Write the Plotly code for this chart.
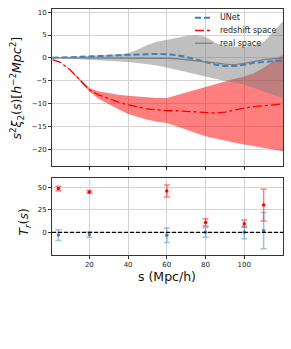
import plotly.graph_objects as go

# ---- top panel data (s grid in Mpc/h) ----
s = [1, 5, 10, 15, 20, 25, 30, 35, 40, 45, 50, 55, 60, 65, 70, 75, 80, 85, 90, 95, 100, 105, 110, 115, 120]

redshift_mean = [-0.4, -1.0, -2.6, -4.8, -7.0, -8.2, -9.0, -9.7, -10.3, -10.8, -11.2, -11.4, -11.6,
                 -11.6, -11.7, -11.8, -11.9, -12.1, -11.9, -11.4, -11.0, -10.7, -10.5, -10.3, -10.1]
redshift_upper = [-0.4, -0.95, -2.5, -4.6, -6.6, -7.4, -7.8, -8.1, -8.3, -8.5, -8.7, -8.8, -8.8,
                  -8.2, -7.5, -6.9, -6.3, -5.8, -5.2, -4.6, -4.1, -3.4, -2.2, -0.8, 0.7]
redshift_lower = [-0.4, -1.05, -2.7, -5.0, -7.4, -9.0, -10.2, -11.3, -12.3, -13.0, -13.6, -14.0, -14.3,
                  -15.0, -15.8, -16.5, -17.2, -17.7, -18.2, -18.6, -19.0, -19.4, -19.8, -20.2, -20.5]

real_mean = [0.0, 0.0, -0.02, -0.03, -0.05, -0.08, -0.1, -0.12, -0.15, -0.12, -0.1, -0.1, -0.1,
             -0.2, -0.4, -0.6, -0.8, -1.1, -1.4, -1.5, -1.2, -0.8, -0.4, -0.2, 0.0]
real_upper = [0.0, 0.08, 0.15, 0.22, 0.3, 0.45, 0.6, 0.8, 1.0, 1.8, 2.8, 3.5, 3.9,
              4.3, 4.8, 5.0, 4.6, 3.3, 2.6, 2.4, 2.5, 2.6, 3.4, 5.8, 8.0]
real_lower = [0.0, -0.08, -0.15, -0.28, -0.4, -0.5, -0.6, -0.75, -0.9, -1.15, -1.4, -1.7, -2.1,
              -2.6, -3.2, -3.6, -4.1, -4.6, -5.0, -5.4, -5.9, -6.6, -7.4, -8.1, -8.8]

unet_mean = [0.0, 0.05, 0.1, 0.18, 0.25, 0.35, 0.45, 0.55, 0.65, 0.75, 0.85, 0.85, 0.8,
             0.6, 0.2, -0.4, -1.0, -1.5, -1.8, -1.8, -1.5, -1.1, -0.9, -0.7, -0.6]

# ---- bottom panel data ----
s_pts = [4, 20, 60, 80, 100, 110]
tr_red = [48.3, 44.6, 45.6, 10.9, 9.5, 30.1]
tr_red_err = [2.5, 1.5, 6.7, 4.0, 4.0, 17.6]
tr_blue = [-3.0, -2.5, -3.3, 0.0, 0.0, 1.8]
tr_blue_err = [6.0, 3.0, 8.0, 5.3, 7.0, 20.0]

# legend entries
legend_labels = ["UNet", "redshift space", "real space"]

FONT = "DejaVu Sans"
RED = "#ff0000"
BLUE = "#3f7fbf"
GRAY = "#808080"

fig = go.Figure()

# red band (redshift space)
fig.add_trace(go.Scatter(x=s, y=redshift_lower, mode="lines", line=dict(width=0),
                         showlegend=False, hoverinfo="skip", xaxis="x", yaxis="y"))
fig.add_trace(go.Scatter(x=s, y=redshift_upper, mode="lines", line=dict(width=0),
                         fill="tonexty", fillcolor="rgba(255,0,0,0.5)",
                         showlegend=False, hoverinfo="skip", xaxis="x", yaxis="y"))
# gray band (real space)
fig.add_trace(go.Scatter(x=s, y=real_lower, mode="lines", line=dict(width=0),
                         showlegend=False, hoverinfo="skip", xaxis="x", yaxis="y"))
fig.add_trace(go.Scatter(x=s, y=real_upper, mode="lines", line=dict(width=0),
                         fill="tonexty", fillcolor="rgba(128,128,128,0.5)",
                         showlegend=False, hoverinfo="skip", xaxis="x", yaxis="y"))

UNET_LINE = dict(color=BLUE, width=2, dash="6px,3px")
RED_LINE = dict(color=RED, width=1.3, dash="dashdot")
GRAY_LINE = dict(color=GRAY, width=1.3)

fig.add_trace(go.Scatter(x=s, y=unet_mean, mode="lines", name=legend_labels[0],
                         line=UNET_LINE, showlegend=False, xaxis="x", yaxis="y"))
fig.add_trace(go.Scatter(x=s, y=redshift_mean, mode="lines", name=legend_labels[1],
                         line=RED_LINE, showlegend=False, xaxis="x", yaxis="y"))
fig.add_trace(go.Scatter(x=s, y=real_mean, mode="lines", name=legend_labels[2],
                         line=GRAY_LINE, showlegend=False, xaxis="x", yaxis="y"))

# bottom panel
fig.add_trace(go.Scatter(x=s_pts, y=tr_red, mode="markers", showlegend=False,
                         marker=dict(color=RED, size=3.5),
                         error_y=dict(type="data", array=tr_red_err, color="rgba(255,0,0,0.5)",
                                      thickness=1.5, width=3),
                         xaxis="x2", yaxis="y2"))
fig.add_trace(go.Scatter(x=s_pts, y=tr_blue, mode="markers", showlegend=False,
                         marker=dict(color=BLUE, size=3.5),
                         error_y=dict(type="data", array=tr_blue_err, color="rgba(63,127,191,0.5)",
                                      thickness=1.5, width=3),
                         xaxis="x2", yaxis="y2"))

axis_common = dict(showline=True, mirror=True, linecolor="#333333", linewidth=1,
                   ticks="outside", ticklen=3, tickcolor="#333333",
                   showgrid=True, gridcolor="#d3d3d3", gridwidth=1, zeroline=False,
                   tickfont=dict(family=FONT, size=7, color="#222222"))

# manual compact legend (matplotlib style, no frame)
leg_rows = [0.9646, 0.9126, 0.861]
leg_styles = [UNET_LINE, RED_LINE, GRAY_LINE]
shapes = [dict(type="line", xref="x2 domain", yref="y2", x0=0, x1=1, y0=0, y1=0,
               line=dict(color="black", width=1.3, dash="4px,2px"))]
annotations = []
for yy, st, lab in zip(leg_rows, leg_styles, legend_labels):
    shapes.append(dict(type="line", xref="paper", yref="paper", x0=0.619, x1=0.695,
                       y0=yy, y1=yy, line=st))
    annotations.append(dict(text=lab, xref="paper", yref="paper", x=0.7186, y=yy,
                            xanchor="left", yanchor="middle", showarrow=False,
                            font=dict(family=FONT, size=8, color="#222222")))

annotations += [
    dict(text="<i>s</i><sup>2</sup><i>\u03be</i><sub>2</sub>(<i>s</i>)[<i>h</i><sup>\u22122</sup><i>Mpc</i><sup>2</sup>]",
         xref="paper", yref="paper", x=-0.152, y=0.68, textangle=-90,
         xanchor="center", yanchor="middle",
         showarrow=False, font=dict(family=FONT, size=12.5, color="#111111")),
    dict(text="<i>T<sub>r</sub></i>(<i>s</i>)",
         xref="paper", yref="paper", x=-0.117, y=0.135, textangle=-90,
         xanchor="center", yanchor="middle",
         showarrow=False, font=dict(family=FONT, size=12.5, color="#111111")),
    dict(text="s (Mpc/h)", xref="paper", yref="paper", x=0.498, y=-0.089,
         xanchor="center", yanchor="middle",
         showarrow=False, font=dict(family=FONT, size=12.5, color="#111111")),
]

fig.update_layout(
    width=291, height=349,
    margin=dict(l=52, r=8, t=9, b=94),
    paper_bgcolor="white", plot_bgcolor="white",
    font=dict(family=FONT, color="#222222"),
    showlegend=False,
    xaxis=dict(domain=[0, 1], range=[0.7, 120], tickvals=[20, 40, 60, 80, 100],
               showticklabels=False, anchor="y", matches="x2", **axis_common),
    yaxis=dict(domain=[0.362, 1], range=[-23.7, 10.7], tickvals=[-20, -15, -10, -5, 0, 5, 10],
               ticktext=["\u221220", "\u221215", "\u221210", "\u22125", "0", "5", "10"],
               anchor="x", **axis_common),
    xaxis2=dict(domain=[0, 1], range=[0.7, 120], tickvals=[20, 40, 60, 80, 100],
                anchor="y2", **axis_common),
    yaxis2=dict(domain=[0, 0.313], range=[-25, 60], tickvals=[0, 25, 50],
                anchor="x2", **axis_common),
    shapes=shapes,
    annotations=annotations,
)

fig.write_html("out.html", config={"displayModeBar": False},
               post_script="document.body.style.margin='0';")
